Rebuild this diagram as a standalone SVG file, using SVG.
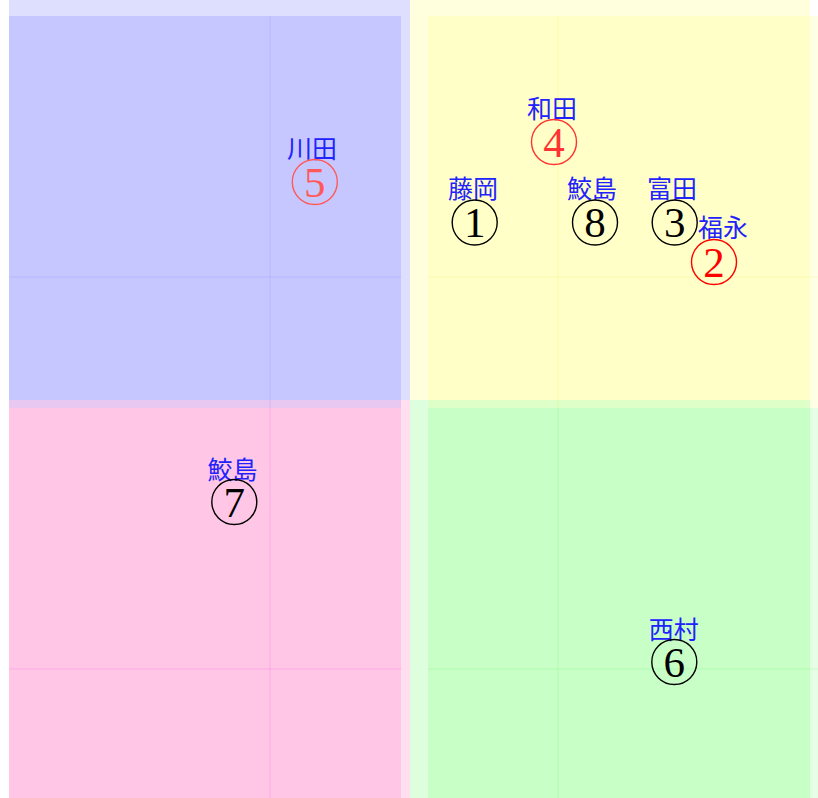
<svg xmlns="http://www.w3.org/2000/svg" width="818" height="798" viewBox="0 0 818 798">
<style>
.lbl{font-family:"Noto Sans CJK JP","Noto Sans CJK SC",sans-serif;font-size:25px;fill:#2222ff;text-anchor:middle}
.dig{font-family:"Liberation Serif","DejaVu Serif",serif;font-size:43px;text-anchor:middle}
.ring{fill:none;stroke-width:1.4}
.k .ring{stroke:#000}.k .dig{fill:#000}
.r .ring{stroke:#ff0000}.r .dig{fill:#ff0000}
.r2 .ring{stroke:#ff3333}.r2 .dig{fill:#ff3333}
.r3 .ring{stroke:#ff5a5a}.r3 .dig{fill:#ff5a5a}
</style>
<rect width="818" height="798" fill="#ffffff"/>
<g id="areas">
  <rect x="9" y="-20" width="401" height="420" fill="#0000ff" fill-opacity="0.13"/>
  <rect x="9" y="16" width="392" height="392" fill="#0000ff" fill-opacity="0.1"/>
  <rect x="410" y="-20" width="400" height="420" fill="#ffff00" fill-opacity="0.13"/>
  <rect x="428" y="16" width="390" height="392" fill="#ffff00" fill-opacity="0.1"/>
  <rect x="9" y="400" width="401" height="420" fill="#ff008c" fill-opacity="0.13"/>
  <rect x="9" y="408" width="392" height="400" fill="#ff008c" fill-opacity="0.1"/>
  <rect x="410" y="400" width="400" height="420" fill="#00ff00" fill-opacity="0.13"/>
  <rect x="428" y="408" width="390" height="400" fill="#00ff00" fill-opacity="0.1"/>
</g>
<g id="grid" stroke-width="1">
  <line x1="270" y1="16" x2="270" y2="408" stroke="#0000ff" stroke-opacity="0.08"/>
  <line x1="9" y1="277" x2="401" y2="277" stroke="#0000ff" stroke-opacity="0.08"/>
  <line x1="558" y1="16" x2="558" y2="408" stroke="#e0e000" stroke-opacity="0.12"/>
  <line x1="428" y1="277" x2="818" y2="277" stroke="#e0e000" stroke-opacity="0.12"/>
  <line x1="270" y1="408" x2="270" y2="798" stroke="#f000ff" stroke-opacity="0.15"/>
  <line x1="9" y1="669" x2="401" y2="669" stroke="#f000ff" stroke-opacity="0.15"/>
  <line x1="558" y1="408" x2="558" y2="798" stroke="#00e000" stroke-opacity="0.1"/>
  <line x1="428" y1="669" x2="818" y2="669" stroke="#00e000" stroke-opacity="0.1"/>
</g>
<g id="connectors"></g>
<g id="node1" class="k">
  <text class="lbl" x="473" y="198">藤岡</text>
  <circle class="ring" cx="474.7" cy="222.5" r="22.5"/>
  <text class="dig" x="474.7" y="237">1</text>
</g>
<g id="node2" class="r">
  <text class="lbl" x="723" y="237">福永</text>
  <circle class="ring" cx="714" cy="262" r="22.5"/>
  <text class="dig" x="714" y="276.5">2</text>
</g>
<g id="node3" class="k">
  <text class="lbl" x="672" y="198">富田</text>
  <circle class="ring" cx="674.7" cy="222.5" r="22.5"/>
  <text class="dig" x="674.7" y="237">3</text>
</g>
<g id="node4" class="r2">
  <text class="lbl" x="552" y="118">和田</text>
  <circle class="ring" cx="554" cy="142" r="22.5"/>
  <text class="dig" x="554" y="156.5">4</text>
</g>
<g id="node5" class="r3">
  <text class="lbl" x="312" y="158">川田</text>
  <circle class="ring" cx="314.8" cy="182" r="22.5"/>
  <text class="dig" x="314.8" y="196.5">5</text>
</g>
<g id="node6" class="k">
  <text class="lbl" x="673.7" y="639">西村</text>
  <circle class="ring" cx="674.3" cy="662" r="22.5"/>
  <text class="dig" x="674.3" y="676.5">6</text>
</g>
<g id="node7" class="k">
  <text class="lbl" x="232.5" y="479">鮫島</text>
  <circle class="ring" cx="234.3" cy="502" r="22.5"/>
  <text class="dig" x="234.3" y="516.5">7</text>
</g>
<g id="node8" class="k">
  <text class="lbl" x="592" y="198">鮫島</text>
  <circle class="ring" cx="595" cy="222.5" r="22.5"/>
  <text class="dig" x="595" y="237">8</text>
</g>
</svg>
